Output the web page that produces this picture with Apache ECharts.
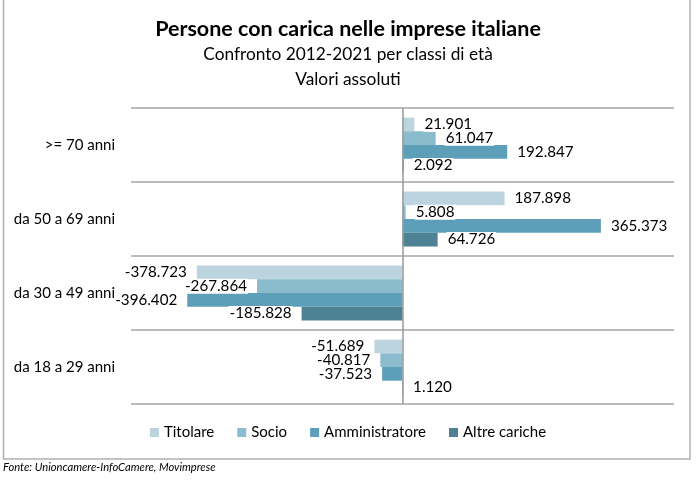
<!DOCTYPE html>
<html>
<head>
<meta charset="utf-8">
<script src="https://cdn.jsdelivr.net/npm/echarts@6/dist/echarts.min.js"></script>
<style>
  html, body { margin: 0; padding: 0; background: #fff; }
  #chart { width: 696px; height: 481px; }
</style>
</head>
<body>
<div id="chart"></div>
<script>
// categorie, dall'alto verso il basso
var classi = ['>= 70 anni', 'da 50 a 69 anni', 'da 30 a 49 anni', 'da 18 a 29 anni'];
var serieNomi = ['Titolare', 'Socio', 'Amministratore', 'Altre cariche'];
var titolare = [21901, 187898, -378723, -51689];
var socio = [61047, 5808, -267864, -40817];
var amministratore = [192847, 365373, -396402, -37523];
var altre = [2092, 64726, -185828, 1120];
var colori = ['#bcd4e0', '#8bbccd', '#5d9fb9', '#4e8194'];

var font = 'Lato, "Open Sans", sans-serif';

var fmt = function (v) {
    var s = Math.abs(v).toString().replace(/\B(?=(\d{3})+(?!\d))/g, '.');
    return (v < 0 ? '-' : '') + s;
};

var makeSerie = function (nome, dati, colore, idx) {
    return {
        name: nome,
        type: 'bar',
        barGap: '0%',
        barCategoryGap: '26%',
        itemStyle: { color: colore },
        data: dati.map(function (v) {
            return {
                value: v,
                label: { position: v < 0 ? 'left' : 'right', distance: 9 }
            };
        }),
        label: {
            show: true,
            distance: 9,
            color: '#000',
            fontFamily: font,
            fontSize: 15.2,
            lineHeight: 15,
            backgroundColor: '#fff',
            padding: [0, 1, 0, 1],
            formatter: function (p) { return fmt(p.value); }
        },
        markLine: idx == 0 ? {
            silent: true,
            symbol: 'none',
            label: { show: false },
            lineStyle: { color: '#999', width: 1.5, type: 'solid' },
            data: [{ xAxis: 0 }]
        } : undefined
    };
};

var myChart = echarts.init(document.getElementById('chart'));
var option = {
    animation: false,
    title: {
        text: 'Persone con carica nelle imprese italiane',
        subtext: 'Confronto 2012-2021 per classi di età\nValori assoluti',
        left: 'center',
        top: 13,
        itemGap: 2,
        textStyle: { fontFamily: font, fontSize: 21.5, fontWeight: 'bold', color: '#000' },
        subtextStyle: { fontFamily: font, fontSize: 17.3, color: '#000', lineHeight: 25 }
    },
    legend: {
        bottom: 36,
        left: 'center',
        itemWidth: 9,
        itemHeight: 9,
        itemGap: 23,
        icon: 'rect',
        textStyle: { fontFamily: font, fontSize: 15, color: '#000' },
        data: serieNomi
    },
    grid: { left: 131, right: 22, top: 108, bottom: 77, containLabel: false },
    xAxis: {
        type: 'value',
        min: -500000,
        max: 500000,
        interval: 500000,
        axisLabel: { show: false },
        axisLine: { show: false },
        axisTick: { show: false },
        splitLine: { show: false }
    },
    yAxis: {
        type: 'category',
        inverse: true,
        data: classi,
        axisLine: { show: false, onZero: false },
        axisTick: { show: false },
        axisLabel: { margin: 16, fontFamily: font, fontSize: 15, color: '#000' },
        splitLine: { show: true, lineStyle: { color: '#a6a6a6', width: 1.5 } }
    },
    graphic: [
        {
            type: 'rect',
            shape: { x: 3.5, y: -2, width: 686.5, height: 461 },
            style: { fill: 'none', stroke: '#b0b0b0', lineWidth: 1.5 },
            silent: true
        },
        {
            type: 'text',
            left: 3,
            top: 462,
            style: {
                text: 'Fonte: Unioncamere-InfoCamere, Movimprese',
                fontFamily: font,
                fontSize: 11.2,
                fontStyle: 'italic',
                fill: '#000'
            }
        }
    ],
    series: [
        makeSerie(serieNomi[0], titolare, colori[0], 0),
        makeSerie(serieNomi[1], socio, colori[1], 1),
        makeSerie(serieNomi[2], amministratore, colori[2], 2),
        makeSerie(serieNomi[3], altre, colori[3], 3)
    ]
};
myChart.setOption(option);
</script>
</body>
</html>
